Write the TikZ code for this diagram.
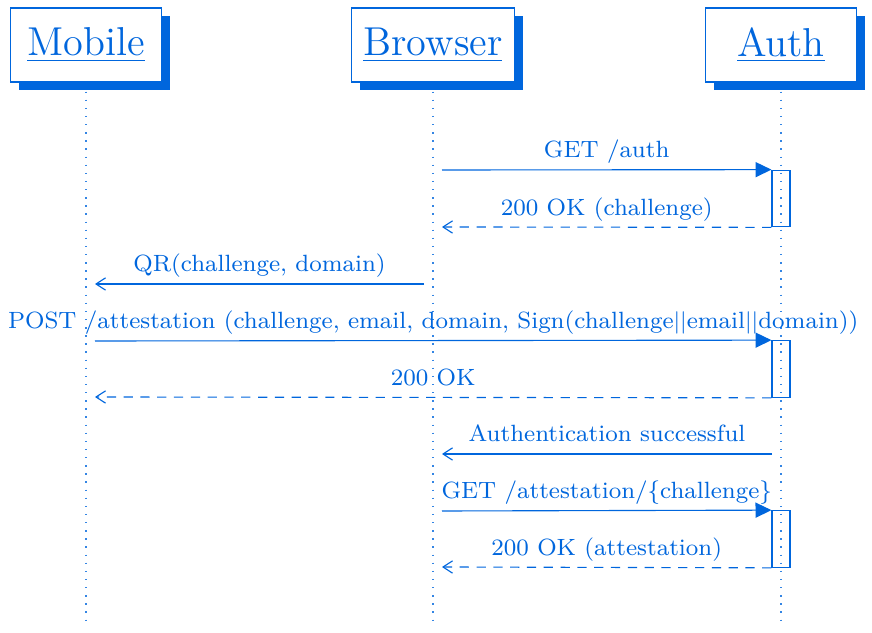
\documentclass[tikz,border=0pt]{standalone}
\usepackage{tikz}
\usetikzlibrary{positioning,arrows.meta,shadows}

\definecolor{seqblue}{RGB}{0,102,221}

\tikzset{
	actor/.style={draw=seqblue, fill=white, text=seqblue, font=\Large,
		minimum height=26.4pt, minimum width=54pt, inner xsep=4.4pt,
		drop shadow={shadow xshift=3pt, shadow yshift=-3pt, fill=seqblue, opacity=1}},
	lifeline/.style={seqblue!80, line width=0.4pt, dash pattern=on 0.5pt off 2.4pt},
	activation/.style={draw=seqblue, minimum width=6.4pt, minimum height=20.2pt, inner sep=0pt},
	callmsg/.style={seqblue, -{Triangle[length=5.7pt,width=5.4pt]}},
	replymsg/.style={seqblue, dash pattern=on 3.3pt off 2.7pt, -{Straight Barb[length=3.4pt,width=4.4pt]}},
	notemsg/.style={seqblue, -{Straight Barb[length=3.4pt,width=4.4pt]}},
	msglabel/.style={midway, above, font=\fontsize{8.4}{10}\selectfont, text=seqblue,
		text height=5.6pt, text depth=2pt, inner ysep=2.1pt}
}

\begin{document}
\begin{tikzpicture}[x=0.357pt, y=-0.357pt]
	\useasboundingbox (0,0) rectangle (872,633);

	% participants
	\node[actor] (mobile)  at (86,45)  {\underline{Mobile}};
	\node[actor] (browser) at (433,45) {\underline{Browser}};
	\node[actor] (auth)    at (781,45) {\underline{Auth}};

	% lifelines
	\foreach \a in {mobile,browser,auth}
	\draw[lifeline] (\a.south) ++(0,9) -- ++(0,529);

	% activations of Auth
	\node[activation] (act1) at (781,198.5) {};
	\node[activation] (act2) at (781,369)   {};
	\node[activation] (act3) at (781,539)   {};

	% message end points
	\coordinate (b1) at (442,170);
	\coordinate (b2) at (442,227);
	\coordinate (b3) at (424,284);
	\coordinate (m1) at (95,284);
	\coordinate (m2) at (95,341);
	\coordinate (m3) at (95,397);
	\coordinate (a1) at (772,454);
	\coordinate (b4) at (442,454);
	\coordinate (b5) at (442,511);
	\coordinate (b6) at (442,567);

	% messages
	\draw[callmsg]  (b1) -- (act1.north west) node[msglabel] {GET /auth};
	\draw[replymsg] (act1.south west) -- (b2) node[msglabel] {200 OK (challenge)};
	\draw[notemsg]  (b3) -- (m1) node[msglabel] {QR(challenge, domain)};
	\draw[callmsg]  (m2) -- (act2.north west)
		node[msglabel] {POST /attestation (challenge, email, domain, Sign(challenge$||$email$||$domain))};
	\draw[replymsg] (act2.south west) -- (m3) node[msglabel] {200 OK};
	\draw[notemsg]  (a1) -- (b4) node[msglabel] {Authentication successful};
	\draw[callmsg]  (b5) -- (act3.north west) node[msglabel] {GET /attestation/\{challenge\}};
	\draw[replymsg] (act3.south west) -- (b6) node[msglabel] {200 OK (attestation)};
\end{tikzpicture}
\end{document}
